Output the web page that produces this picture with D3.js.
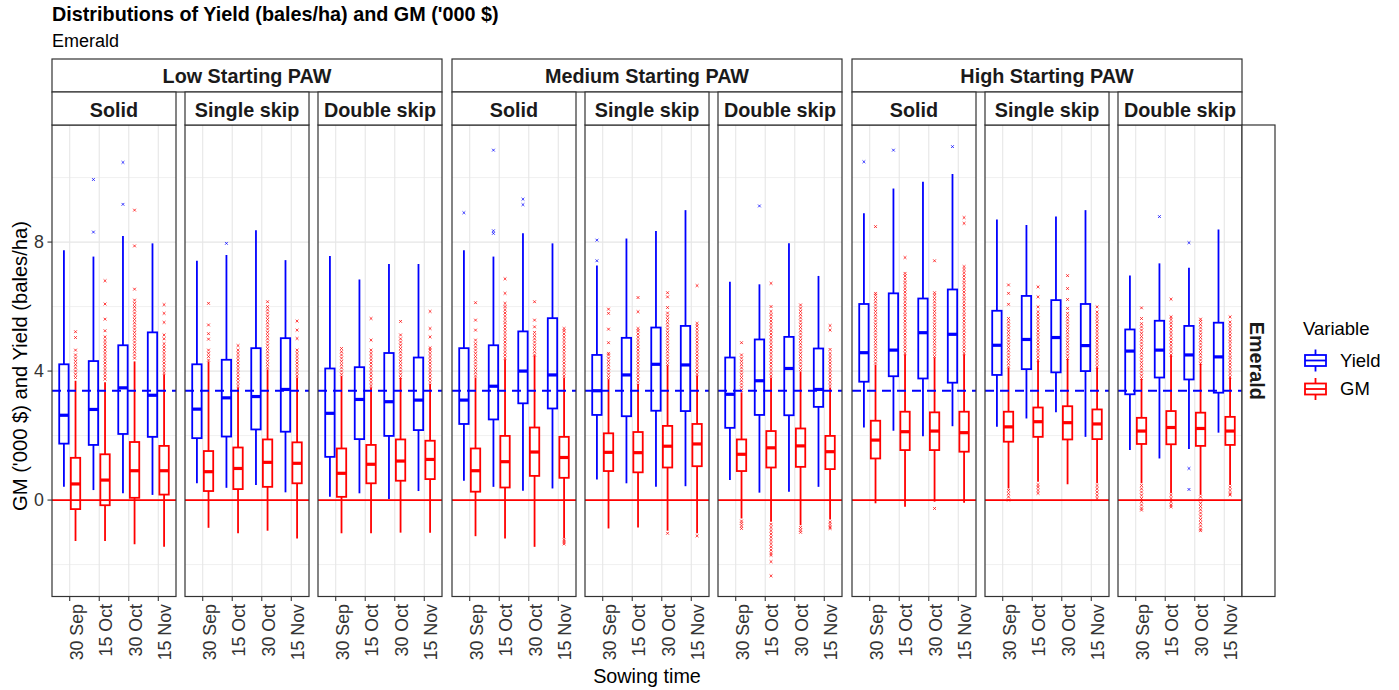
<!DOCTYPE html>
<html><head><meta charset="utf-8">
<script src="https://cdn.jsdelivr.net/npm/d3@7"></script>
<style>body{margin:0;background:#fff;} svg{display:block;font-family:"Liberation Sans",Arial,sans-serif;}</style>
</head><body><svg id="chart" width="1399" height="690"></svg>
<script>
const pawLevels = ["Low Starting PAW", "Medium Starting PAW", "High Starting PAW"];
const configLevels = ["Solid", "Single skip", "Double skip"];
const sowingTimes = ["30 Sep", "15 Oct", "30 Oct", "15 Nov"];
const variableNames = ["Yield", "GM"];
const siteName = "Emerald";
const yieldRefLine = 3.39;
const gmRefLine = 0;
const yMajorTicks = [0, 4, 8];
const yMinorTicks = [-2, 2, 6, 10];

// [lower whisker, Q1, median, Q3, upper whisker]; rows: PAW -> config -> sowing time
const yieldBoxes = [
  [0.41,1.75,2.63,4.21,7.75],[0.31,1.71,2.81,4.31,7.55],[0.21,2.05,3.48,4.80,8.19],[0.16,1.96,3.25,5.20,7.96],
  [0.52,1.92,2.82,4.21,7.42],[0.38,1.97,3.17,4.35,7.60],[0.47,2.19,3.21,4.71,8.37],[0.24,2.12,3.43,5.02,7.44],
  [0.10,1.34,2.69,4.08,7.57],[0.21,1.89,3.12,4.12,6.84],[0.03,1.99,3.05,4.56,7.32],[0.28,2.17,3.10,4.42,7.32],
  [0.60,2.36,3.10,4.71,7.75],[0.41,2.50,3.53,4.80,7.55],[0.29,3.00,4.00,5.23,8.27],[0.36,2.84,3.88,5.64,7.96],
  [0.64,2.64,3.39,4.50,7.27],[0.52,2.60,3.88,5.03,8.11],[0.41,2.77,4.21,5.35,8.34],[0.43,2.76,4.19,5.40,8.99],
  [0.62,2.24,3.28,4.42,6.77],[0.23,2.64,3.70,4.98,6.69],[0.26,2.63,4.08,5.06,7.96],[0.41,2.89,3.43,4.70,6.95],
  [2.25,3.67,4.57,6.08,8.89],[2.15,3.84,4.65,6.41,9.66],[1.98,3.77,5.19,6.25,9.87],[2.29,3.64,5.14,6.53,10.11],
  [2.27,3.88,4.80,5.87,8.70],[2.53,4.06,4.98,6.33,8.53],[2.72,3.96,5.04,6.20,8.79],[1.96,4.00,4.79,6.08,8.99],
  [1.55,3.28,4.62,5.29,6.96],[1.29,3.80,4.65,5.56,7.34],[1.58,3.74,4.50,5.40,7.20],[2.09,3.33,4.44,5.50,8.39]
];
const gmBoxes = [
  [-1.27,-0.28,0.50,1.31,3.70],[-1.27,-0.16,0.62,1.42,3.65],[-1.37,0.07,0.91,1.80,4.30],[-1.45,0.17,0.91,1.68,3.90],
  [-0.86,0.28,0.88,1.52,4.30],[-1.03,0.34,0.98,1.63,3.50],[-0.95,0.41,1.17,1.88,4.05],[-1.19,0.52,1.14,1.79,3.80],
  [-1.03,0.10,0.83,1.60,3.85],[-1.03,0.52,1.11,1.71,3.50],[-1.01,0.60,1.21,1.88,3.78],[-1.01,0.65,1.26,1.84,3.60],
  [-1.12,0.26,0.91,1.60,3.80],[-1.19,0.39,1.19,1.99,4.37],[-1.45,0.75,1.49,2.25,4.48],[-1.19,0.69,1.32,1.96,3.80],
  [-0.88,0.90,1.48,2.07,3.75],[-0.85,0.86,1.47,2.11,3.60],[-0.95,1.01,1.67,2.30,4.17],[-1.03,1.05,1.74,2.36,3.86],
  [-0.57,0.90,1.42,1.88,3.34],[-0.67,1.01,1.62,2.14,3.80],[-0.78,1.03,1.68,2.22,3.99],[-0.60,0.96,1.50,1.99,3.49],
  [-0.10,1.29,1.86,2.46,4.20],[-0.21,1.55,2.12,2.74,4.52],[-0.05,1.55,2.14,2.72,4.42],[-0.08,1.50,2.09,2.74,4.52],
  [0.36,1.81,2.27,2.74,4.10],[0.57,1.96,2.43,2.87,4.32],[0.49,1.88,2.40,2.91,4.37],[0.52,1.89,2.36,2.81,4.10],
  [0.52,1.74,2.14,2.55,3.75],[0.21,1.73,2.25,2.76,4.48],[0.16,1.68,2.22,2.71,4.22],[0.47,1.71,2.14,2.58,3.80]
];
const yieldOutliers = [
  [],[8.31,9.94],[9.17,10.47],[],
  [],[7.96],[],[],
  [],[],[],[],
  [8.91],[8.27,8.35,10.85],[9.16,9.33],[],
  [7.42,8.06],[],[],[],
  [],[9.12],[],[],
  [10.49],[10.85],[],[10.96],
  [],[],[],[],
  [],[8.79],[7.98,0.98,0.33],[]
];
const gmOutliers = [
  [3.8,3.9,4.0,4.1,4.2,4.3,4.4,4.5,4.65,5.04,5.22],
  [3.75,3.85,3.95,4.05,4.15,4.25,4.35,4.45,4.55,4.65,4.75,4.85,4.95,5.06,5.25,5.61,6.08,6.8],
  [4.4,4.5,4.6,4.7,4.8,4.9,5.0,5.1,5.2,5.3,5.4,5.5,5.6,5.7,5.8,5.9,6.0,6.1,6.2,6.54,7.88,8.99],
  [3.95,4.05,4.15,4.25,4.35,4.45,4.55,4.65,4.75,4.85,5.0,5.12,5.51,5.79,6.06],
  [4.34,4.45,4.55,4.65,4.99,5.16,5.43,6.1],
  [3.55,3.65,3.75,3.85,3.95,4.05,4.15,4.25,4.35,4.45,4.55,4.65,4.79],
  [4.1,4.2,4.3,4.4,4.5,4.6,4.7,4.8,4.9,5.0,5.1,5.2,5.3,5.4,5.5,5.6,5.7,5.8,5.9,6.0,6.15],
  [3.85,3.95,4.05,4.15,4.25,4.35,4.45,4.55,4.65,5.01,5.27,5.55],
  [3.9,4.0,4.1,4.2,4.3,4.4,4.5,4.6,4.7],
  [3.55,3.65,3.75,3.85,3.95,4.05,4.15,4.25,4.35,4.45,4.55,4.65,4.96,5.63],
  [3.8,3.9,4.0,4.1,4.2,4.3,4.4,4.5,4.6,4.7,4.8,4.9,5.0,5.12,5.54],
  [3.65,3.75,3.85,3.95,4.05,4.15,4.25,4.35,4.45,4.55,4.65,4.72,5.06,5.32,5.85],
  [3.85,3.95,4.05,4.15,4.25,4.35,4.45,4.55,4.65,4.75,4.85,4.96,5.27,5.58,6.12],
  [4.4,4.5,4.6,4.7,4.8,4.9,5.0,5.1,5.2,5.3,5.4,5.5,5.6,5.7,5.8,5.9,6.0,6.1,6.41,6.86],
  [4.5,4.6,4.7,4.8,4.9,5.0,5.1,5.2,5.37,5.58,6.15],
  [3.85,3.95,4.05,4.15,4.25,4.35,4.45,4.55,4.65,4.75,4.85,4.95,5.05,5.15,5.25,5.32,-1.24,-1.3,-1.36],
  [3.8,3.9,4.0,4.1,4.2,4.3,4.4,4.5,4.55,4.88,5.3,5.79,5.92],
  [3.65,3.75,3.85,3.95,4.05,4.15,4.25,4.35,4.45,4.55,4.65,4.75,4.85,4.95,5.05,5.15,5.25,5.32,5.84,6.28],
  [4.2,4.3,4.4,4.5,4.6,4.7,4.8,4.9,5.0,5.1,5.2,5.3,5.4,5.5,5.6,5.7,5.8,5.97,6.3,6.43,-1.03],
  [3.9,4.0,4.1,4.2,4.3,4.4,4.5,4.6,4.7,4.8,4.9,5.0,5.1,5.2,5.3,5.4,5.48,6.65,-1.11],
  [3.4,3.5,3.6,3.7,3.8,3.9,4.0,4.1,4.2,4.3,4.4,4.5,4.88,-0.65,-0.72,-0.8,-0.88],
  [3.85,3.95,4.05,4.15,4.25,4.35,4.45,4.55,4.65,4.75,4.85,4.95,5.05,5.15,5.25,5.35,5.45,5.55,5.65,5.75,5.85,6.0,6.72,-0.75,-0.85,-0.95,-1.05,-1.15,-1.25,-1.35,-1.45,-1.55,-1.65,-1.71,-1.91,-2.35],
  [4.05,4.15,4.25,4.35,4.45,4.55,4.65,4.75,4.85,4.95,5.05,5.15,5.25,5.35,5.45,5.55,5.65,5.75,5.85,5.95,6.05,-0.85,-0.93,-1.0],
  [3.55,3.65,3.75,3.85,3.95,4.05,4.15,4.25,4.35,4.45,4.55,4.67,5.27,5.41,-0.68,-0.76,-0.84,-0.88],
  [4.25,4.35,4.45,4.55,4.65,4.75,4.85,4.95,5.05,5.15,5.25,5.35,5.45,5.55,5.65,5.75,5.85,5.95,6.05,6.15,6.25,6.35,6.41,8.48],
  [4.55,4.65,4.75,4.85,4.95,5.05,5.15,5.25,5.35,5.45,5.55,5.65,5.75,5.85,5.95,6.05,6.15,6.25,6.35,6.45,6.55,6.65,6.75,6.85,6.95,7.03,7.52],
  [4.45,4.55,4.65,4.75,4.85,4.95,5.05,5.15,5.25,5.35,5.45,5.55,5.65,5.75,5.85,5.95,6.05,6.15,6.25,6.35,6.43,7.42,-0.26],
  [4.55,4.65,4.75,4.85,4.95,5.05,5.15,5.25,5.35,5.45,5.55,5.65,5.75,5.85,5.95,6.05,6.15,6.25,6.35,6.45,6.55,6.65,6.75,6.85,6.95,7.05,7.15,7.24,8.58,8.76],
  [4.13,4.23,4.33,4.43,4.53,4.63,4.73,4.83,4.93,5.03,5.13,5.23,5.33,5.43,5.53,5.63,6.07,6.41,6.67,0.3,0.2,0.1,0.0],
  [4.34,4.44,4.54,4.64,4.74,4.84,4.94,5.04,5.14,5.24,5.34,5.44,5.54,5.64,5.74,5.84,5.99,6.3,6.61,0.48,0.4,0.3,0.21],
  [4.39,4.49,4.59,4.69,4.79,4.89,4.99,5.09,5.19,5.29,5.39,5.49,5.59,5.69,5.79,5.94,6.22,6.56,6.96],
  [4.13,4.23,4.33,4.43,4.53,4.63,4.73,4.83,4.93,5.03,5.13,5.23,5.33,5.43,5.53,5.63,5.73,5.83,5.99,0.45,0.35,0.25,0.15,0.05],
  [3.77,3.87,3.97,4.07,4.17,4.27,4.37,4.47,4.57,4.67,4.77,4.87,4.97,5.07,5.17,5.27,5.37,5.47,5.63,5.96,0.45,0.35,0.25,0.15,0.05,-0.05,-0.15,-0.25,-0.31],
  [4.5,4.6,4.7,4.8,4.9,5.0,5.1,5.2,5.3,5.4,5.5,5.6,5.68,6.23,0.15,0.05,-0.05,-0.15,-0.21],
  [4.24,4.34,4.44,4.54,4.64,4.74,4.84,4.94,5.04,5.14,5.24,5.34,5.44,5.54,5.61,0.1,0.0,-0.1,-0.2,-0.3,-0.4,-0.5,-0.6,-0.7,-0.8,-0.9,-0.95],
  [3.82,3.92,4.02,4.12,4.22,4.32,4.42,4.52,4.62,4.72,4.82,4.92,5.02,5.12,5.22,5.32,5.42,5.52,5.68,0.4,0.3,0.2,0.16]
];

// ---------- layout ----------
const svg = d3.select("#chart");
const panelW = 124, panelTop = 125, panelBottom = 596.5;
const firstLeft = 52, panelStep = 133, groupStep = 400;
const outerStripTop = 59, innerStripTop = 92;
const dark = "#333333";
const stripFont = 19.8;
const colors = d3.scaleOrdinal().domain(variableNames).range(["#0000FF", "#FF0000"]);
const boxData = { Yield: yieldBoxes, GM: gmBoxes };
const outData = { Yield: yieldOutliers, GM: gmOutliers };

const y = d3.scaleLinear().domain([-2.99, 11.63]).range([panelBottom, panelTop]);
const dodge = d3.scaleBand().domain(variableNames).range([-11.6, 11.6]);
const boxW = dodge.bandwidth() * 0.81;

// title
svg.append("text").attr("x", 52).attr("y", 20.5).attr("font-size", 19.8).attr("font-weight", "bold")
  .attr("fill", "#000").text("Distributions of Yield (bales/ha) and GM ('000 $)");
svg.append("text").attr("x", 52).attr("y", 46.5).attr("font-size", 18).attr("fill", "#000").text(siteName);

const crossPath = "M-1.4,-1.4L1.4,1.4M-1.4,1.4L1.4,-1.4";

pawLevels.forEach((paw, g) => {
  const gLeft = firstLeft + g * groupStep;
  svg.append("rect").attr("x", gLeft).attr("y", outerStripTop).attr("width", 2 * panelStep + panelW)
    .attr("height", innerStripTop - outerStripTop).attr("fill", "#fff").attr("stroke", dark).attr("stroke-width", 1.2);
  svg.append("text").attr("x", gLeft + (2 * panelStep + panelW) / 2).attr("y", 83)
    .attr("text-anchor", "middle").attr("font-size", stripFont).attr("font-weight", "bold").attr("fill", "#1a1a1a").text(paw);

  configLevels.forEach((cfg, c) => {
    const p = g * 3 + c;
    const left = gLeft + c * panelStep;
    const x = d3.scalePoint().domain(sowingTimes).range([left, left + panelW]).padding(0.6);
    const pg = svg.append("g");

    svg.append("rect").attr("x", left).attr("y", innerStripTop).attr("width", panelW)
      .attr("height", panelTop - innerStripTop).attr("fill", "#fff").attr("stroke", dark).attr("stroke-width", 1.2);
    svg.append("text").attr("x", left + panelW / 2).attr("y", 116.5)
      .attr("text-anchor", "middle").attr("font-size", stripFont).attr("font-weight", "bold").attr("fill", "#1a1a1a").text(cfg);

    pg.selectAll(".minor").data(yMinorTicks).join("line")
      .attr("x1", left).attr("x2", left + panelW).attr("y1", d => y(d)).attr("y2", d => y(d))
      .attr("stroke", "#f0f0f0").attr("stroke-width", 1);
    pg.selectAll(".major").data(yMajorTicks).join("line")
      .attr("x1", left).attr("x2", left + panelW).attr("y1", d => y(d)).attr("y2", d => y(d))
      .attr("stroke", "#e6e6e6").attr("stroke-width", 1.3);
    pg.selectAll(".vgrid").data(sowingTimes).join("line")
      .attr("x1", d => x(d)).attr("x2", d => x(d)).attr("y1", panelTop).attr("y2", panelBottom)
      .attr("stroke", "#e6e6e6").attr("stroke-width", 1.1);

    sowingTimes.forEach((t, ti) => {
      variableNames.forEach(v => {
        const s = boxData[v][p * 4 + ti];
        const cx = x(t) + dodge(v) + dodge.bandwidth() / 2;
        const col = colors(v);
        const bg = pg.append("g");
        bg.append("line").attr("x1", cx).attr("x2", cx).attr("y1", y(s[0])).attr("y2", y(s[1]))
          .attr("stroke", col).attr("stroke-width", 1.8);
        bg.append("line").attr("x1", cx).attr("x2", cx).attr("y1", y(s[3])).attr("y2", y(s[4]))
          .attr("stroke", col).attr("stroke-width", 1.8);
        bg.append("rect").attr("x", cx - boxW / 2).attr("width", boxW)
          .attr("y", y(s[3])).attr("height", y(s[1]) - y(s[3]))
          .attr("fill", "none").attr("stroke", col).attr("stroke-width", 1.8);
        bg.append("line").attr("x1", cx - boxW / 2).attr("x2", cx + boxW / 2)
          .attr("y1", y(s[2])).attr("y2", y(s[2])).attr("stroke", col).attr("stroke-width", 3.2);
        bg.selectAll(".out").data(outData[v][p * 4 + ti]).join("path")
          .attr("d", crossPath).attr("transform", d => `translate(${cx},${y(d)})`)
          .attr("stroke", col).attr("stroke-width", 1).attr("fill", "none").attr("opacity", 0.75);
      });
    });

    pg.append("line").attr("x1", left).attr("x2", left + panelW).attr("y1", y(gmRefLine)).attr("y2", y(gmRefLine))
      .attr("stroke", colors("GM")).attr("stroke-width", 1.8);
    pg.append("line").attr("x1", left).attr("x2", left + panelW).attr("y1", y(yieldRefLine)).attr("y2", y(yieldRefLine))
      .attr("stroke", colors("Yield")).attr("stroke-width", 1.8).attr("stroke-dasharray", "9,6");

    pg.append("rect").attr("x", left).attr("y", panelTop).attr("width", panelW).attr("height", panelBottom - panelTop)
      .attr("fill", "none").attr("stroke", dark).attr("stroke-width", 1.2);

    const xa = svg.append("g");
    xa.selectAll("line").data(sowingTimes).join("line")
      .attr("x1", d => x(d)).attr("x2", d => x(d)).attr("y1", panelBottom).attr("y2", panelBottom + 4.5)
      .attr("stroke", dark).attr("stroke-width", 1.1);
    xa.selectAll("text").data(sowingTimes).join("text")
      .attr("transform", d => `translate(${x(d)},${panelBottom + 7.5}) rotate(-90)`)
      .attr("y", 13).attr("text-anchor", "end").attr("font-size", 17.8).attr("fill", "#333").text(d => d);
  });
});

const ya = svg.append("g");
ya.selectAll("line").data(yMajorTicks).join("line")
  .attr("x1", firstLeft - 4.5).attr("x2", firstLeft).attr("y1", d => y(d)).attr("y2", d => y(d))
  .attr("stroke", dark).attr("stroke-width", 1.1);
ya.selectAll("text").data(yMajorTicks).join("text")
  .attr("x", firstLeft - 8).attr("y", d => y(d)).attr("dy", "0.35em").attr("text-anchor", "end")
  .attr("font-size", 17.8).attr("fill", "#333").text(d => d);

const stripX = firstLeft + 2 * groupStep + 2 * panelStep + panelW;
svg.append("rect").attr("x", stripX).attr("y", panelTop).attr("width", 33).attr("height", panelBottom - panelTop)
  .attr("fill", "#fff").attr("stroke", dark).attr("stroke-width", 1.2);
svg.append("text").attr("transform", `translate(${stripX + 15},${(panelTop + panelBottom) / 2}) rotate(90)`)
  .attr("text-anchor", "middle").attr("dy", "0.35em").attr("font-size", stripFont).attr("font-weight", "bold")
  .attr("fill", "#1a1a1a").text(siteName);

svg.append("text").attr("x", (firstLeft + stripX) / 2).attr("y", 683).attr("text-anchor", "middle")
  .attr("font-size", 19.8).attr("fill", "#000").text("Sowing time");
svg.append("text").attr("transform", `translate(20,366) rotate(-90)`)
  .attr("text-anchor", "middle").attr("dy", "0.35em").attr("font-size", 20.2).attr("fill", "#000")
  .text("GM ('000 $) and Yield (bales/ha)");

const lg = svg.append("g");
lg.append("text").attr("x", 1303).attr("y", 335).attr("font-size", 18.5).attr("fill", "#000").text("Variable");
variableNames.forEach((v, i) => {
  const cy = 360.5 + i * 28.5;
  const col = colors(v);
  lg.append("line").attr("x1", 1315.5).attr("x2", 1315.5).attr("y1", cy - 11).attr("y2", cy + 11)
    .attr("stroke", col).attr("stroke-width", 1.8);
  lg.append("rect").attr("x", 1305).attr("y", cy - 5.5).attr("width", 21).attr("height", 11)
    .attr("fill", "#fff").attr("stroke", col).attr("stroke-width", 1.8);
  lg.append("line").attr("x1", 1305).attr("x2", 1326).attr("y1", cy).attr("y2", cy)
    .attr("stroke", col).attr("stroke-width", 1.8);
  lg.append("text").attr("x", 1340).attr("y", cy).attr("dy", "0.35em").attr("font-size", 18.5)
    .attr("fill", "#000").text(v);
});
</script></body></html>
